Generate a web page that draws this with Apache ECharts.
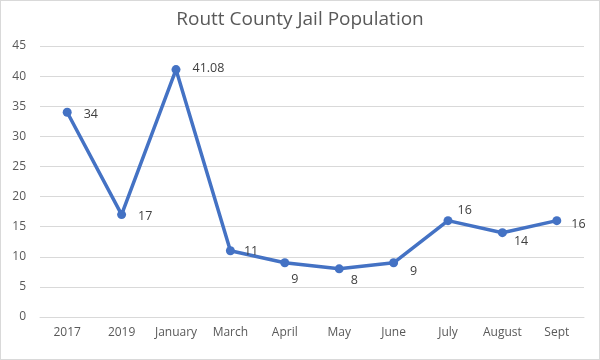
<!DOCTYPE html>
<html><head><meta charset="utf-8">
<script src="https://cdn.jsdelivr.net/npm/echarts@6/dist/echarts.min.js"></script>
<style>html,body{margin:0;padding:0;background:#fff}#c{width:598px;height:358px;border:1px solid #d9d9d9}</style>
</head><body><div id="c"></div>
<script>
const categories = ['2017','2019','January','March','April','May','June','July','August','Sept'];
const values = [34,17,41.08,11,9,8,9,16,14,16];
const yTicks = [0,5,10,15,20,25,30,35,40,45];
const labelOffsets = [[12,2],[12,2],[12,-1],[9,1],[2,17],[7,12],[12,9],[5,-10],[7,9],[10,4]];
const chart = echarts.init(document.getElementById('c'));
chart.setOption({
  animation:false,
  title:{text:'Routt County Jail Population',left:'center',top:4,textStyle:{fontFamily:'Open Sans',fontSize:19,fontWeight:'normal',color:'#595959'}},
  grid:{left:39,right:15,top:45,bottom:42,containLabel:false},
  xAxis:{type:'category',data:categories,boundaryGap:true,axisLine:{lineStyle:{color:'#d9d9d9'}},axisTick:{show:false},
    axisLabel:{interval:0,color:'#595959',fontFamily:'Open Sans',fontSize:12,margin:10}},
  yAxis:{type:'value',min:0,max:45,interval:5,axisLine:{show:false},axisTick:{show:false},
    splitLine:{lineStyle:{color:'#d9d9d9'}},axisLabel:{color:'#595959',fontFamily:'Open Sans',fontSize:12,margin:14}},
  series:[{type:'line',data:values.map((v,i)=>({value:v,label:{offset:labelOffsets[i]}})),
    lineStyle:{color:'#4472C4',width:3.5},itemStyle:{color:'#4472C4'},symbol:'circle',symbolSize:9,
    label:{show:true,position:'right',color:'#404040',fontFamily:'Open Sans',fontSize:12.5,distance:0}}]
});
</script></body></html>
